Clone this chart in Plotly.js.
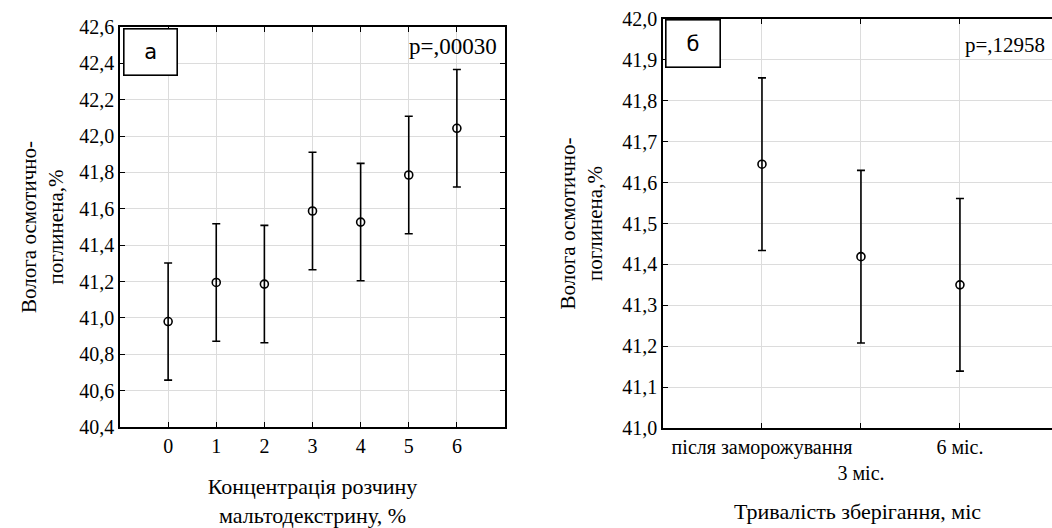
<!DOCTYPE html>
<html>
<head>
<meta charset="utf-8">
<script src="https://cdn.plot.ly/plotly-3.0.1.min.js"></script>
</head>
<body style="margin:0;background:#fff">
<div id="chart" style="width:1052px;height:528px"></div>
<script>
// Panel а: concentration of maltodextrin solution
const concCategories = [0, 1, 2, 3, 4, 5, 6];
const concMeans = [40.98, 41.195, 41.186, 41.588, 41.527, 41.786, 42.043];
const concErrors = [0.322, 0.323, 0.323, 0.323, 0.323, 0.323, 0.323];
const pValueA = "p=,00030";

// Panel б: storage duration
const storageLabels = ["після заморожування", "<br>3 міс.", "6 міс."];
const storagePositions = [0, 1, 2];
const storageMeans = [41.645, 41.419, 41.350];
const storageErrors = [0.211, 0.211, 0.211];
const pValueB = "p=,12958";

const W = 1052, H = 528;
const SERIF = "Liberation Serif";
const SANS = "DejaVu Sans";

function markerStyle() { return {symbol: "circle-open", size: 8, color: "#000", line: {width: 1.6, color: "#000"}}; }
function errStyle(arr) { return {type: "data", array: arr, visible: true, thickness: 1.6, width: 4, color: "#000"}; }

const traces = [
  {
    x: concCategories, y: concMeans, type: "scatter", mode: "markers",
    marker: markerStyle(), error_y: errStyle(concErrors),
    xaxis: "x", yaxis: "y", showlegend: false
  },
  {
    x: storagePositions, y: storageMeans, type: "scatter", mode: "markers",
    marker: markerStyle(), error_y: errStyle(storageErrors),
    xaxis: "x2", yaxis: "y2", showlegend: false
  }
];

function axis(extra) {
  const base = {
    showline: true, linecolor: "#000", linewidth: 1.6,
    showgrid: true, gridcolor: "#dcdcdc", gridwidth: 1,
    ticks: "inside", ticklen: 5, tickwidth: 1.4, tickcolor: "#000",
    zeroline: false, tickfont: {family: SERIF, size: 20, color: "#000"},
    automargin: false, tickangle: 0
  };
  return Object.assign(base, extra);
}

const layout = {
  width: W, height: H,
  font: {family: SERIF, size: 20, color: "#000"},
  margin: {l: 0, r: 0, t: 0, b: 0},
  paper_bgcolor: "#fff", plot_bgcolor: "#fff",
  separators: ", ",
  showlegend: false,
  xaxis: axis({
    domain: [120 / W, 505 / W], anchor: "y",
    range: [-1, 7], tickmode: "array", tickvals: concCategories,
    ticktext: concCategories.map(String), mirror: "ticks",
    title: {text: "Концентрація розчину<br>мальтодекстрину, %", font: {family: SERIF, size: 22, color: "#000"}, standoff: 24}
  }),
  yaxis: axis({
    domain: [1 - 427 / H, 1 - 27 / H], anchor: "x",
    range: [40.4, 42.6], dtick: 0.2, tick0: 40.4, tickformat: ".1f", mirror: "ticks",
    title: {text: "Волога осмотично-<br>поглинена,%", font: {family: SERIF, size: 21, color: "#000"}, standoff: 10}
  }),
  xaxis2: axis({
    domain: [663 / W, 1], anchor: "y2",
    range: [-1, 2.93], tickmode: "array", tickvals: storagePositions,
    ticktext: storageLabels, mirror: "ticks",
    title: {text: "Тривалість зберігання, міс", font: {family: SERIF, size: 22, color: "#000"}, standoff: 21}
  }),
  yaxis2: axis({
    domain: [1 - 428 / H, 1 - 19 / H], anchor: "x2",
    range: [41.0, 42.0], dtick: 0.1, tick0: 41.0, tickformat: ".1f", mirror: false,
    title: {text: "Волога осмотично-<br>поглинена,%", font: {family: SERIF, size: 21, color: "#000"}, standoff: 14}
  }),
  annotations: [
    {text: "а", xref: "paper", yref: "paper", x: 123 / W, y: 1 - 28 / H, xanchor: "left", yanchor: "top",
     showarrow: false, font: {family: SANS, size: 21, color: "#000"}, bgcolor: "#fff",
     bordercolor: "#000", borderwidth: 1.6, borderpad: 0, width: 52, height: 45},
    {text: pValueA, xref: "paper", yref: "paper", x: 499 / W, y: 1 - 47 / H, xanchor: "right", yanchor: "middle",
     showarrow: false, font: {family: SERIF, size: 23, color: "#000"}},
    {text: "б", xref: "paper", yref: "paper", x: 665 / W, y: 1 - 19 / H, xanchor: "left", yanchor: "top",
     showarrow: false, font: {family: SANS, size: 21, color: "#000"}, bgcolor: "#fff",
     bordercolor: "#000", borderwidth: 1.6, borderpad: 0, width: 53, height: 46},
    {text: pValueB, xref: "paper", yref: "paper", x: 1047 / W, y: 1 - 45 / H, xanchor: "right", yanchor: "middle",
     showarrow: false, font: {family: SERIF, size: 21, color: "#000"}}
  ]
};

Plotly.newPlot("chart", traces, layout, {displayModeBar: false});
</script>
</body>
</html>
